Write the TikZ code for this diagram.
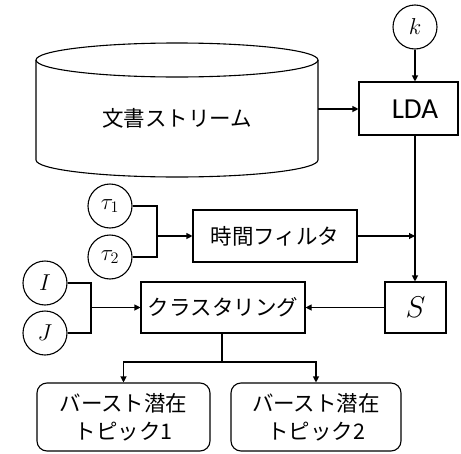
\RequirePackage{fix-cm}
\documentclass[tikz,border=0pt]{standalone}
\usepackage{fontspec}
\newfontfamily\jpfont{Noto Sans CJK JP}
\newfontfamily\ldafont{Carlito}
\usetikzlibrary{arrows.meta}
\begin{document}
\begin{tikzpicture}[x=1pt,y=1pt,line width=1.1pt,
  box/.style={draw,rectangle,inner sep=0pt},
  rbox/.style={draw,rectangle,rounded corners=10pt,inner sep=0pt,align=center,
     font=\jpfont\fontsize{21.5}{28}\selectfont},
  jptext/.style={font=\jpfont\fontsize{21.5}{24}\selectfont},
  circ/.style={draw,circle,inner sep=0pt,minimum size=44pt,font=\fontsize{23}{24}\selectfont},
  arr/.style={-{Triangle[length=6pt,width=6pt]}}]
\useasboundingbox (0,0) rectangle (461,-453);
% cylinder
\draw (36,-60) -- (36,-160) arc[start angle=180,end angle=360,x radius=141,y radius=17] -- (318,-60);
\draw (177,-60) ellipse [x radius=141,y radius=17];
\node[jptext] (docs) at (177,-118) {文書ストリーム};
\coordinate (cylR) at (318,-109);
% LDA
\node[box,minimum width=99pt,minimum height=53pt] (lda) at (408.5,-108.5) {};
\node[font=\ldafont\fontsize{29}{30}\selectfont] (ldatext) at (415,-109) {LDA};
\node[circ] (k) at (415,-27) {$k$};
\draw[arr] (k.south) -- (k.south |- lda.north);
\draw[arr] (cylR) -- (cylR -| lda.west);
% S
\node[box,minimum width=61pt,minimum height=51pt,font=\fontsize{30}{32}\selectfont] (s) at (415.5,-307.5) {$S$};
\draw[arr] (lda.south -| k.south) -- (s.north -| k.south);
% filter
\node[box,minimum width=164pt,minimum height=52pt,jptext] (filter) at (275,-236) {時間フィルタ};
\draw[arr] (filter.east) -- (filter.east -| k.south);
\node[circ] (t1) at (110,-206) {$\tau_1$};
\node[circ] (t2) at (110,-257) {$\tau_2$};
\coordinate (tj) at (157,-236);
\draw (t1.east) -| (tj);
\draw (t2.east) -| (tj);
\draw[arr] (tj) -- (filter.west);
% clustering
\node[box,minimum width=164pt,minimum height=51pt,jptext] (cluster) at (223,-307.5) {クラスタリング};
\draw[arr] (s.west) -- (cluster.east);
\node[circ] (I) at (45,-283) {$I$};
\node[circ] (J) at (45,-333) {$J$};
\coordinate (ij) at (91,-307.5);
\draw (I.east) -| (ij);
\draw (J.east) -| (ij);
\draw[arr] (ij) -- (cluster.west);
% outputs
\node[rbox,minimum width=173pt,minimum height=68pt] (out1) at (123.5,-417) {バースト潜在\\トピック1};
\node[rbox,minimum width=170pt,minimum height=68pt] (out2) at (316,-417) {バースト潜在\\トピック2};
\coordinate (cd) at (222,-362);
\draw (cluster.south -| cd) -- (cd);
\draw[arr] (cd) -| (out1.north);
\draw[arr] (cd) -| (out2.north);
\end{tikzpicture}
\end{document}
